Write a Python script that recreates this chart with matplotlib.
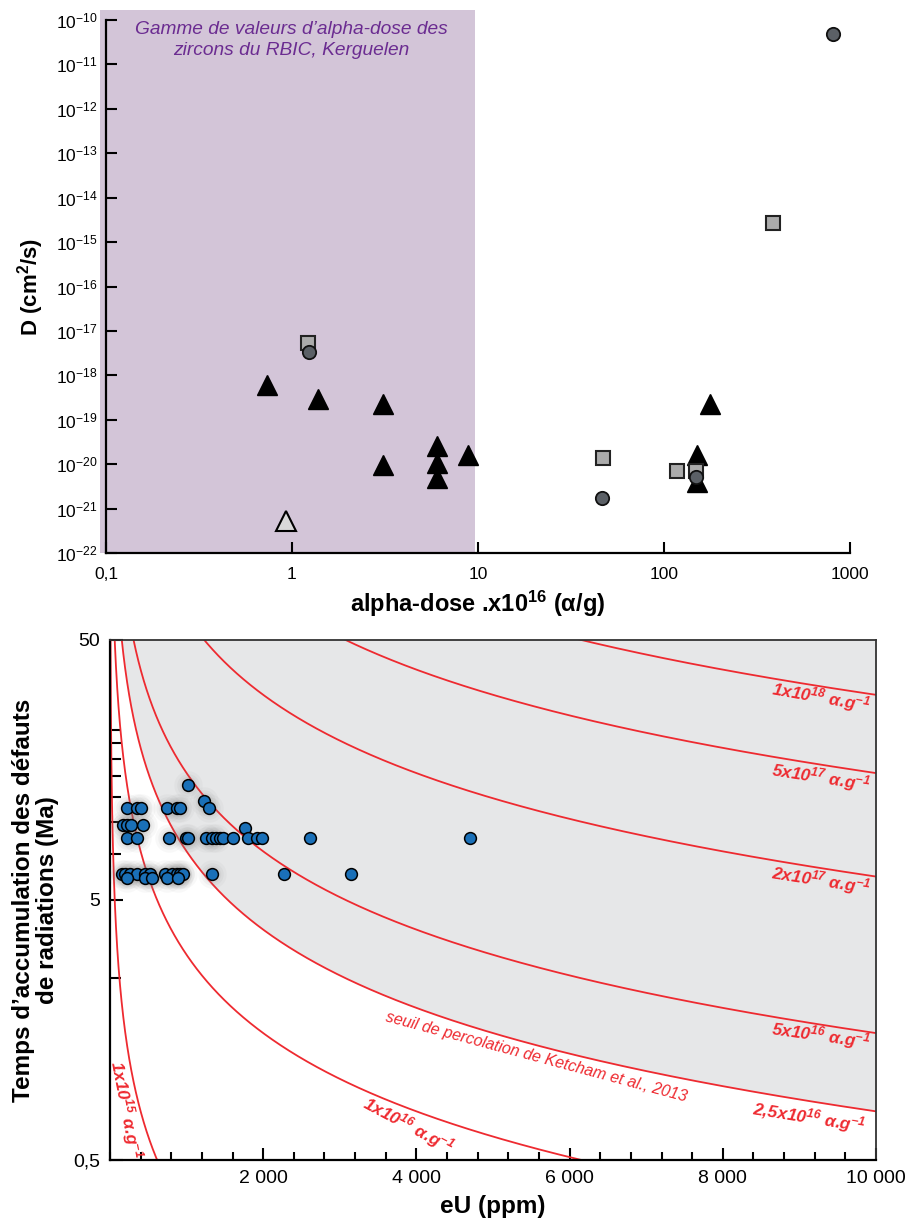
# Alpha-dose diffusion plot (top) and radiation-damage accumulation (bottom)
import numpy as np
import matplotlib.pyplot as plt
from matplotlib.patches import Rectangle
from matplotlib.ticker import FixedLocator, NullLocator, MultipleLocator
import matplotlib.transforms as mtransforms

plt.rcParams['font.family'] = ['Liberation Sans', 'DejaVu Sans']
plt.rcParams['mathtext.fontset'] = 'custom'
plt.rcParams['mathtext.rm'] = 'Liberation Sans'
plt.rcParams['mathtext.default'] = 'regular'

# ---- top panel data: alpha-dose (x1e16 a/g) vs D (cm2/s)
sq_dose = [1.22, 46.8, 117, 148, 385]
sq_D = [5.4e-18, 1.4e-20, 7.1e-21, 7.1e-21, 2.7e-15]
circ_dose = [1.23, 46.6, 148, 811]
circ_D = [3.4e-18, 1.7e-21, 5.2e-21, 4.8e-11]
tri_dose = [0.73, 1.38, 3.1, 3.1, 6.0, 6.0, 6.0, 8.87, 150, 150, 177]
tri_D = [6.0e-19, 2.9e-19, 2.3e-19, 9.5e-21, 2.5e-20, 1.05e-20, 4.8e-21,
         1.6e-20, 1.6e-20, 4.0e-21, 2.3e-19]
open_dose = [0.93]
open_D = [5.3e-22]
rbic_range = [0.1, 9.6]   # alpha-dose range of the RBIC zircons

# ---- bottom panel data: eU (ppm) vs accumulation time (Ma)
eU = [1015,
      226, 349, 405, 749, 872, 915, 1229, 1294,
      166, 218, 275, 436, 1764,
      218, 349, 775, 993, 1023, 1255, 1330, 1380, 1430, 1470, 1603, 1799,
      1925, 1983, 2614, 4700,
      153, 196, 261, 349, 457, 523, 719, 806, 872, 915, 958, 1337, 2274, 3150,
      218, 457, 545, 741, 893]
age = [13.8,
       11.3, 11.3, 11.3, 11.3, 11.3, 11.3, 12.0, 11.3,
       9.7, 9.7, 9.7, 9.7, 9.5,
       8.63, 8.63, 8.63, 8.63, 8.63, 8.63, 8.63, 8.63, 8.63, 8.63, 8.63, 8.63,
       8.63, 8.63, 8.63, 8.63,
       6.3, 6.3, 6.3, 6.3, 6.3, 6.3, 6.3, 6.3, 6.3, 6.3, 6.3, 6.3, 6.3, 6.3,
       6.05, 6.05, 6.05, 6.05, 6.05]

# iso alpha-dose lines (a/g) and their labels
doses = [1e15, 1e16, 2.5e16, 5e16, 2e17, 5e17, 1e18]
dose_labels = ['1x10$^{15}$ α.g$^{-1}$', '1x10$^{16}$ α.g$^{-1}$',
               '2,5x10$^{16}$ α.g$^{-1}$', '5x10$^{16}$ α.g$^{-1}$',
               '2x10$^{17}$ α.g$^{-1}$', '5x10$^{17}$ α.g$^{-1}$',
               '1x10$^{18}$ α.g$^{-1}$']
alpha_per_ppm_Ma = 3.25e12
percolation_dose = 2.5e16

red = '#ee2a30'

fig = plt.figure(figsize=(9.1, 12.21), dpi=100)

# ================= top panel =================
ax = fig.add_axes([106/910, 1-553/1221, 744/910, 533/1221])
ax.set_xscale('log')
ax.set_yscale('log')
ax.set_xlim(0.1, 1000)
ax.set_ylim(1e-22, 1e-10)

trans = mtransforms.blended_transform_factory(ax.transData, ax.transAxes)
x0 = rbic_range[0] * 10 ** (-6 / 186)
ax.add_patch(Rectangle((x0, 0), rbic_range[1] - x0, 1 + 10/533, transform=trans,
                       facecolor='#d3c5d8', edgecolor='none', clip_on=False, zorder=0))
ax.text(0.99, 0.998,
        'Gamme de valeurs d’alpha-dose des\nzircons du RBIC, Kerguelen',
        transform=trans, ha='center', va='top', style='italic', fontsize=13.8,
        color='#6b2c91', linespacing=1.3)

ax.plot(tri_dose, tri_D, '^', ms=14, color='black', mec='black', zorder=3)
ax.plot(open_dose, open_D, '^', ms=14, color='#d9d9d9', mec='black', mew=1.5, zorder=3)
ax.plot(sq_dose, sq_D, 's', ms=9.7, color='#ababab', mec='#222222', mew=1.5, zorder=4)
ax.plot(circ_dose, circ_D, 'o', ms=9.6, color='#5b6066', mec='#111111', mew=1.3, zorder=5)

ax.spines['top'].set_visible(False)
ax.spines['right'].set_visible(False)
ax.spines['left'].set_linewidth(1.6)
ax.spines['bottom'].set_linewidth(1.6)
ax.set_xticks([0.1, 1, 10, 100, 1000], ['0,1', '1', '10', '100', '1000'])
exps = list(range(-22, -9))
ax.set_yticks([10.0 ** e for e in exps], ['$10^{%d}$' % e for e in exps])
ax.xaxis.set_minor_locator(NullLocator())
ax.yaxis.set_minor_locator(NullLocator())
ax.tick_params(direction='in', length=8, width=1.5, labelsize=12.5, pad=6)
ax.tick_params(axis='x', pad=10)
ax.set_xlabel('alpha-dose .x10$^{16}$ (α/g)', fontsize=17, fontweight='bold', labelpad=5)
ax.set_ylabel('D (cm$^{2}$/s)', fontsize=16, fontweight='bold', labelpad=7)

# ================= bottom panel =================
ax2 = fig.add_axes([110/910, 1-1160/1221, 766/910, 520/1221])
ax2.set_yscale('log')
ax2.set_xlim(0, 10000)
ax2.set_ylim(0.5, 50)

xx = np.linspace(1, 10000, 3000)
t_perc = percolation_dose / (alpha_per_ppm_Ma * xx)
ax2.fill_between(xx, t_perc, 60, color='#e6e7e8', lw=0, zorder=1)
for d in doses:
    ax2.plot(xx, d / (alpha_per_ppm_Ma * xx), color=red, lw=1.3, zorder=2)

# soft shadow behind the low-eU points
lowU = [(u, a) for u, a in zip(eU, age) if u < 1400]
for s, al in [(420, 0.05), (260, 0.07), (160, 0.08)]:
    ax2.scatter([p[0] for p in lowU], [p[1] for p in lowU], s=s, color='#808080',
                alpha=al, lw=0, zorder=3)
ax2.scatter(eU, age, s=72, color='#1a70b8', edgecolor='black', lw=1.1, zorder=4)

# labels of the iso-dose lines: (eU, t, rotation)
label_pos = [(200, 0.78, -79), (3895, 0.68, -28), (9120, 0.731, -9),
             (9280, 1.51, -8), (9280, 5.97, -9), (9280, 14.86, -9), (9280, 30.2, -10)]
for lab, (xp, yp, rot) in zip(dose_labels, label_pos):
    ax2.text(xp, yp, lab, color=red, fontsize=12.5, fontweight='bold', style='italic',
             ha='center', va='center', rotation=rot, rotation_mode='anchor', zorder=5)
ax2.text(5568, 1.24, 'seuil de percolation de Ketcham et al., 2013', color=red,
         fontsize=11.5, style='italic', ha='center', va='center', rotation=-15,
         rotation_mode='anchor', zorder=5)

for sp in ['left', 'bottom']:
    ax2.spines[sp].set_linewidth(1.6)
for sp in ['top', 'right']:
    ax2.spines[sp].set_linewidth(1.3)
    ax2.spines[sp].set_color('#333333')
ax2.set_xticks([2000, 4000, 6000, 8000, 10000],
               ['2 000', '4 000', '6 000', '8 000', '10 000'])
ax2.xaxis.set_minor_locator(MultipleLocator(400))
ax2.set_yticks([0.5, 5, 50], ['0,5', '5', '50'])
ax2.yaxis.set_minor_locator(FixedLocator([2.5, 7.5, 10, 12.5, 15, 17.5, 20, 22.5]))
ax2.yaxis.set_minor_formatter(plt.NullFormatter())
ax2.tick_params(which='major', direction='in', length=9, width=1.5, labelsize=14, pad=7)
ax2.tick_params(which='minor', direction='in', length=6, width=1.5)
ax2.tick_params(axis='y', which='minor', length=8)
ax2.set_xlabel('eU (ppm)', fontsize=17.5, fontweight='bold', labelpad=6)
ax2.set_ylabel('Temps d’accumulation des défauts\nde radiations (Ma)', fontsize=17.5,
               fontweight='bold', labelpad=10, linespacing=1.1)

fig.savefig('out.png', dpi=100)
